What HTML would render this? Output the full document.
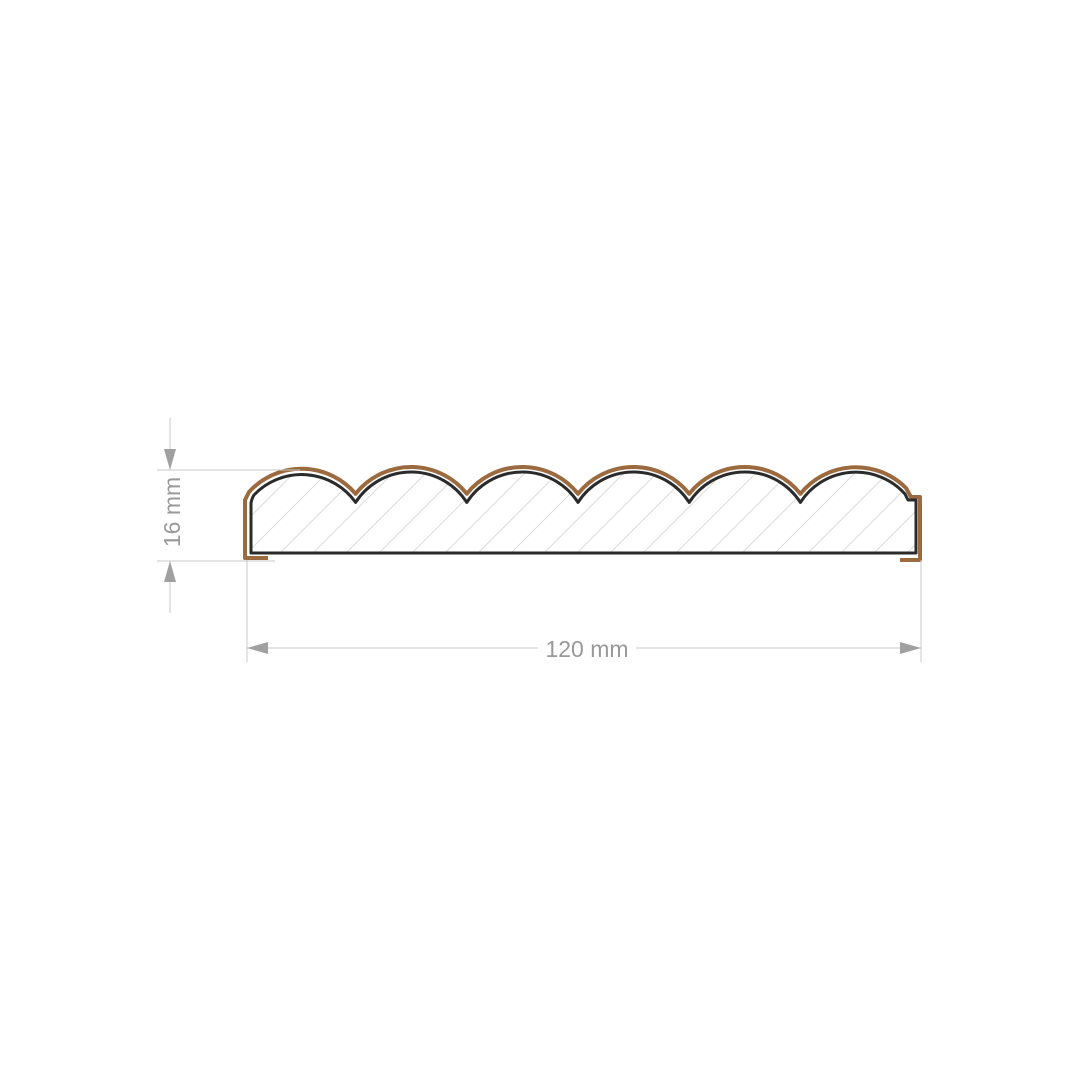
<!DOCTYPE html>
<html><head><meta charset="utf-8"><style>html,body{margin:0;padding:0;background:#fff;}svg{display:block}</style></head>
<body>
<svg width="1080" height="1080" viewBox="0 0 1080 1080" xmlns="http://www.w3.org/2000/svg">
<defs>
<clipPath id="c">
<path d="M251,553 L251,503 Q252,498 254,495 A66,66 0 0 1 355.6,502.4 A66,66 0 0 1 466.8,502.4 A66,66 0 0 1 578,502.4 A66,66 0 0 1 689.2,502.4 A66,66 0 0 1 800.4,502.4 A66,66 0 0 1 905,494 L908,500 L916,500 L916,553 Z"/>
</clipPath>
</defs>
<g clip-path="url(#c)" stroke="#dcdcdc" stroke-width="1">
<path d="M200,600 L360,440 M233,600 L393,440 M266,600 L426,440 M299,600 L459,440 M332,600 L492,440 M365,600 L525,440 M398,600 L558,440 M431,600 L591,440 M464,600 L624,440 M497,600 L657,440 M530,600 L690,440 M563,600 L723,440 M596,600 L756,440 M629,600 L789,440 M662,600 L822,440 M695,600 L855,440 M728,600 L888,440 M761,600 L921,440 M794,600 L954,440 M827,600 L987,440 M860,600 L1020,440 M893,600 L1053,440 M167,600 L327,440"/>
</g>
<path d="M268,558 L245,558 L245,500 L249,492 A71,71 0 0 1 355.6,493.8 A71,71 0 0 1 466.8,493.8 A71,71 0 0 1 578,493.8 A71,71 0 0 1 689.2,493.8 A71,71 0 0 1 800.4,493.8 A71,71 0 0 1 906,488 L911,497 L920,497 L920,560 L900,560" fill="none" stroke="#9b6a3f" stroke-width="4" stroke-linejoin="round"/>
<path d="M251,553 L251,503 Q252,498 254,495 A66,66 0 0 1 355.6,502.4 A66,66 0 0 1 466.8,502.4 A66,66 0 0 1 578,502.4 A66,66 0 0 1 689.2,502.4 A66,66 0 0 1 800.4,502.4 A66,66 0 0 1 905,494 L908,500 L916,500 L916,553 Z" fill="none" stroke="#2b2b2b" stroke-width="3" stroke-linejoin="round"/>
<g stroke="#c8c8c8" stroke-width="1" fill="none">
<line x1="247" y1="560" x2="247" y2="662"/>
<line x1="921" y1="560" x2="921" y2="662"/>
<line x1="247" y1="648" x2="538" y2="648"/>
<line x1="636" y1="648" x2="921" y2="648"/>
<line x1="157" y1="470" x2="300" y2="470"/>
<line x1="157" y1="561" x2="275" y2="561"/>
<line x1="170" y1="418" x2="170" y2="470"/>
<line x1="170" y1="561" x2="170" y2="613"/>
</g>
<g fill="#a0a0a0">
<polygon points="247,648 268,642 268,654"/>
<polygon points="921,648 900,642 900,654"/>
<polygon points="170,470 164,449 176,449"/>
<polygon points="170,561 164,582 176,582"/>
</g>
<text x="587" y="657" text-anchor="middle" font-family="Liberation Sans, sans-serif" font-size="23" fill="#999">120 mm</text>
<text transform="translate(180,512) rotate(-90)" text-anchor="middle" font-family="Liberation Sans, sans-serif" font-size="23" fill="#999">16 mm</text>
</svg>
</body></html>
